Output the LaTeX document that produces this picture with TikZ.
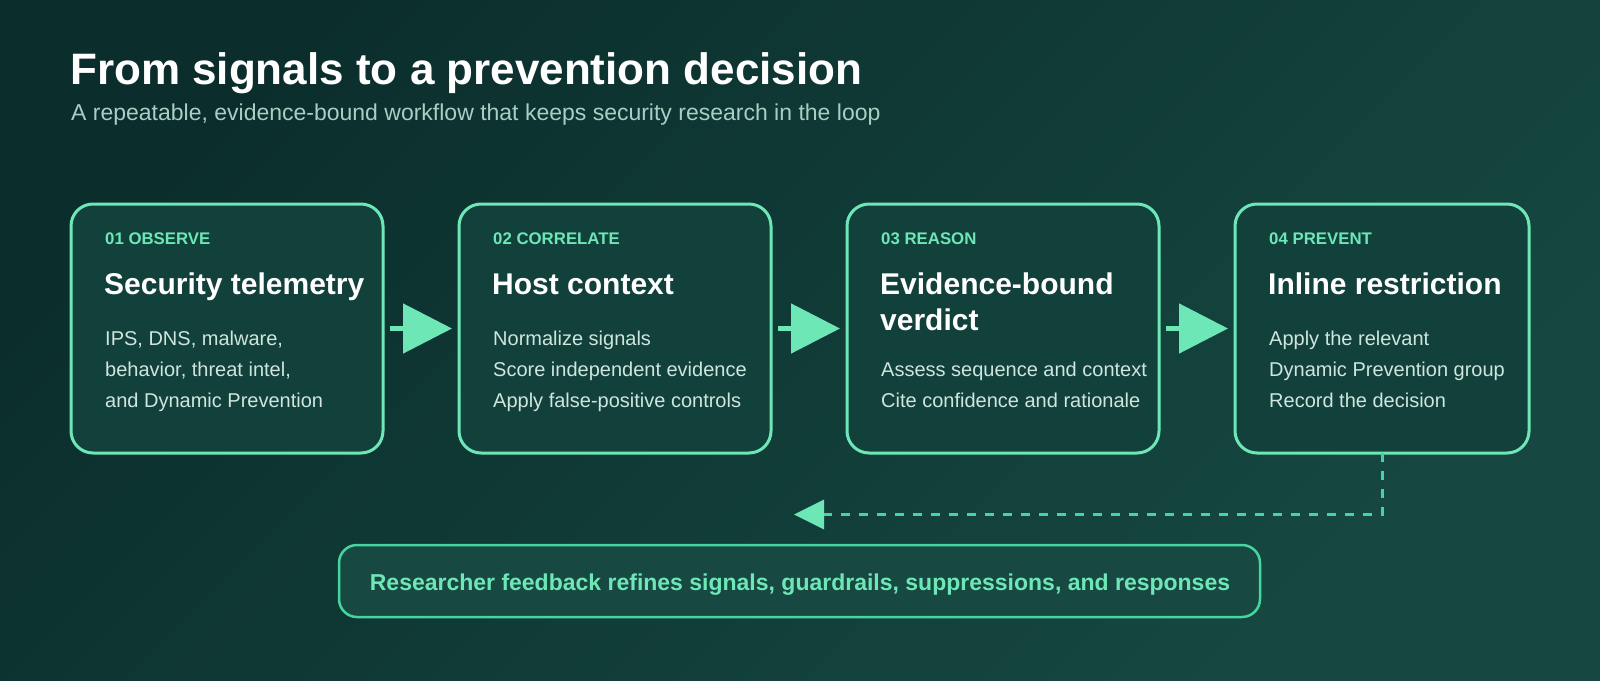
\documentclass[tikz,border=0pt]{standalone}
\usepackage{fontspec}
\setmainfont{Liberation Sans}
\usetikzlibrary{arrows.meta}
\definecolor{bgA}{HTML}{0B2E2C}
\definecolor{bgB}{HTML}{164841}
\definecolor{boxfill}{HTML}{12403B}
\definecolor{mint}{HTML}{6EE7B7}
\definecolor{mintd}{HTML}{45D6A0}
\definecolor{fbfill}{HTML}{184842}
\definecolor{bodyc}{HTML}{CFE6DE}
\definecolor{subc}{HTML}{A8CFC3}
\begin{document}
\begin{tikzpicture}[x=1pt,y=-1pt,
  stage/.style={draw=mint, line width=3pt, fill=boxfill, rounded corners=22pt,
    minimum width=312pt, minimum height=249pt, inner sep=0pt, outer sep=0pt},
  lab/.style={anchor=base west, inner sep=0pt, text=mint, font=\fontsize{16.8}{20}\selectfont\bfseries},
  ttl/.style={anchor=base west, inner sep=0pt, text=white, font=\fontsize{30}{36}\selectfont\bfseries},
  bod/.style={anchor=base west, inner sep=0pt, text=bodyc, font=\fontsize{20}{31}\selectfont},
  flow/.style={draw=mint, line width=5pt, -{Triangle[length=49pt,width=49pt]}},
  fbline/.style={draw=mintd, line width=3pt, dash pattern=on 9pt off 9pt,
    -{Triangle[length=30pt,width=29pt,color=mint]}},
  fbbox/.style={draw=mintd, line width=2.5pt, fill=fbfill, rounded corners=18pt,
    minimum width=921pt, minimum height=72pt, inner sep=0pt, outer sep=0pt},
  fbtext/.style={anchor=base, inner sep=0pt, text=mint, font=\fontsize{23}{28}\selectfont\bfseries}
]
\useasboundingbox (0,0) rectangle (1600,680);
\fill[top color=bgA, bottom color=bgB, shading angle=45] (0,0) rectangle (1600,680);

\node[anchor=base west, inner sep=0pt, text=white, font=\fontsize{44}{52}\selectfont\bfseries] (title) at (70,84) {From signals to a prevention decision};
\node[anchor=base west, inner sep=0pt, text=subc, font=\fontsize{23}{27}\selectfont] (sub) at (71,120) {A repeatable, evidence-bound workflow that keeps security research in the loop};

\node[stage] (b1) at (227,328.5) {};
\node[stage] (b2) at (615,328.5) {};
\node[stage] (b3) at (1003,328.5) {};
\node[stage, minimum width=294pt] (b4) at (1382,328.5) {};

\node[lab] (l1) at (105,244) {01 OBSERVE};
\node[ttl] (t1) at (104,294) {Security telemetry};
\node[bod] (d1a) at (105,345) {IPS, DNS, malware,};
\node[bod] (d1b) at (105,376) {behavior, threat intel,};
\node[bod] (d1c) at (105,407) {and Dynamic Prevention};

\node[lab] (l2) at (493,244) {02 CORRELATE};
\node[ttl] (t2) at (492,294) {Host context};
\node[bod] (d2a) at (493,345) {Normalize signals};
\node[bod] (d2b) at (493,376) {Score independent evidence};
\node[bod] (d2c) at (493,407) {Apply false-positive controls};

\node[lab] (l3) at (881,244) {03 REASON};
\node[ttl] (t3a) at (880,294) {Evidence-bound};
\node[ttl] (t3b) at (880,330) {verdict};
\node[bod] (d3a) at (881,376) {Assess sequence and context};
\node[bod] (d3b) at (881,407) {Cite confidence and rationale};

\node[lab] (l4) at (1269,244) {04 PREVENT};
\node[ttl] (t4) at (1268,294) {Inline restriction};
\node[bod] (d4a) at (1269,345) {Apply the relevant};
\node[bod] (d4b) at (1269,376) {Dynamic Prevention group};
\node[bod] (d4c) at (1269,407) {Record the decision};

\draw[flow] ([xshift=7pt]b1.east) -- ([xshift=-7pt]b2.west);
\draw[flow] ([xshift=7pt]b2.east) -- ([xshift=-7pt]b3.west);
\draw[flow] ([xshift=7pt]b3.east) -- ([xshift=-7pt]b4.west);

\coordinate (fbend) at (794,514.5);
\draw[fbline] (b4.south) |- (fbend);

\node[fbbox] (fb) at (799.5,581) {};
\node[fbtext] (fbt) at (800,590) {Researcher feedback refines signals, guardrails, suppressions, and responses};
\end{tikzpicture}
\end{document}
